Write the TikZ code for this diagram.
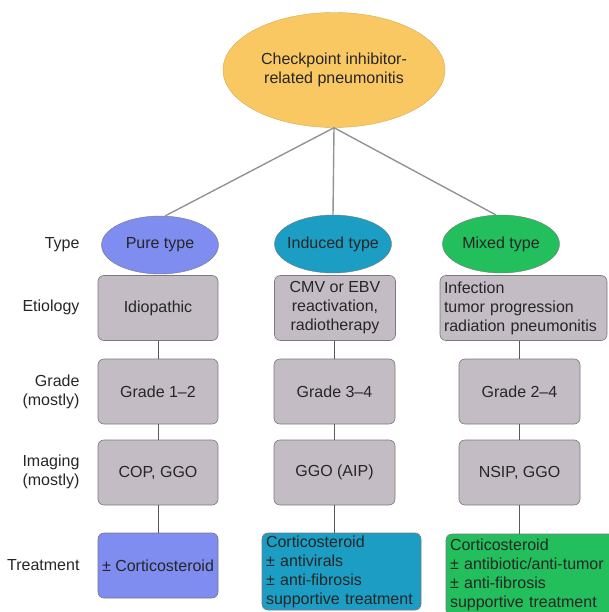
\documentclass[tikz,border=0pt]{standalone}
\usepackage{fontspec}
\setmainfont{Liberation Sans}
\usetikzlibrary{shapes.geometric}

\definecolor{rootfill}{HTML}{F9C862}
\definecolor{purefill}{HTML}{7F8CF0}
\definecolor{inducedfill}{HTML}{1C9DC4}
\definecolor{mixedfill}{HTML}{22BF5C}
\definecolor{boxgray}{HTML}{C4BCC4}
\definecolor{boxedge}{HTML}{7E767E}
\definecolor{txt}{HTML}{262626}

\tikzset{
  every node/.style={text=txt, font=\fontsize{16}{19}\selectfont},
  root/.style={ellipse, fill=rootfill, draw=rootfill!85!black, line width=0.4pt, minimum width=222pt, minimum height=115pt, align=center, inner sep=0pt},
  kind/.style={ellipse, draw=boxedge, line width=0.4pt, minimum width=117pt, minimum height=58pt, inner ysep=0pt, inner xsep=-8pt},
  box/.style={draw=boxedge, line width=0.6pt, fill=boxgray, rounded corners=6pt, minimum width=120pt, minimum height=65pt, inner sep=2pt, align=center},
  lbox/.style={box, align=left, inner xsep=4pt},
  rowlabel/.style={anchor=east, align=right},
  fan/.style={draw=gray!85, line width=1.4pt},
  link/.style={draw=black!65, line width=0.9pt}
}

\begin{document}
\begin{tikzpicture}[x=1pt,y=-1pt]
\useasboundingbox (0,0) rectangle (609,612);

\node[root] (cip) at (334,70) {Checkpoint inhibitor-\\related pneumonitis};

\node[kind, fill=purefill] (pure) at (160,245) {Pure type};
\node[kind, fill=inducedfill] (induced) at (333,244) {Induced type};
\node[kind, fill=mixedfill] (mixed) at (501,244) {Mixed type};

\node[box] (eti1) at (158,308) {Idiopathic};
\node[box, minimum width=121pt] (eti2) at (335,308) {CMV or EBV\\reactivation,\\radiotherapy};
\node[lbox, text width=159pt, minimum height=65pt] (eti3) at (523.5,308) {Infection\\tumor progression\\radiation pneumonitis};

\node[box] (grd1) at (158,391.5) {Grade 1–2};
\node[box, minimum width=121pt] (grd2) at (334.5,391.5) {Grade 3–4};
\node[box, minimum width=121pt] (grd3) at (519.5,391.5) {Grade 2–4};

\node[box] (img1) at (158,472.5) {COP, GGO};
\node[box, minimum width=121pt] (img2) at (334.5,472.5) {GGO (AIP)};
\node[box, minimum width=121pt] (img3) at (519.5,472.5) {NSIP, GGO};

\node[box, fill=purefill] (trt1) at (158,565.5) {± Corticosteroid};
\node[lbox, fill=inducedfill, text width=151pt, minimum height=77pt] (trt2) at (341.5,571.5) {Corticosteroid\\± antivirals\\± anti-fibrosis\\supportive treatment};
\node[lbox, fill=mixedfill, text width=166pt, minimum height=82pt] (trt3) at (533,575) {Corticosteroid\\± antibiotic/anti-tumor\\± anti-fibrosis\\supportive treatment};

\node[rowlabel] (ltype) at (83,245) {Type};
\node[rowlabel] (leti) at (83,307) {Etiology};
\node[rowlabel] (lgrd) at (83,392) {Grade\\(mostly)};
\node[rowlabel] (limg) at (83,472) {Imaging\\(mostly)};
\node[rowlabel] (ltrt) at (83,565) {Treatment};

\draw[fan] (cip.south) -- (pure.80);
\draw[fan] (cip.south) -- (induced.north);
\draw[fan] (cip.south) -- (mixed.100);

\draw[link] (grd1.north) -- (grd1.north |- eti1.south);
\draw[link] (grd2.north) -- (grd2.north |- eti2.south);
\draw[link] (grd3.north) -- (grd3.north |- eti3.south);
\draw[link] (img1.north) -- (grd1.south);
\draw[link] (img2.north) -- (grd2.south);
\draw[link] (img3.north) -- (grd3.south);
\draw[link] (img1.south) -- (img1.south |- trt1.north);
\draw[link] (img2.south) -- (img2.south |- trt2.north);
\draw[link] (img3.south) -- (img3.south |- trt3.north);
\end{tikzpicture}
\end{document}
